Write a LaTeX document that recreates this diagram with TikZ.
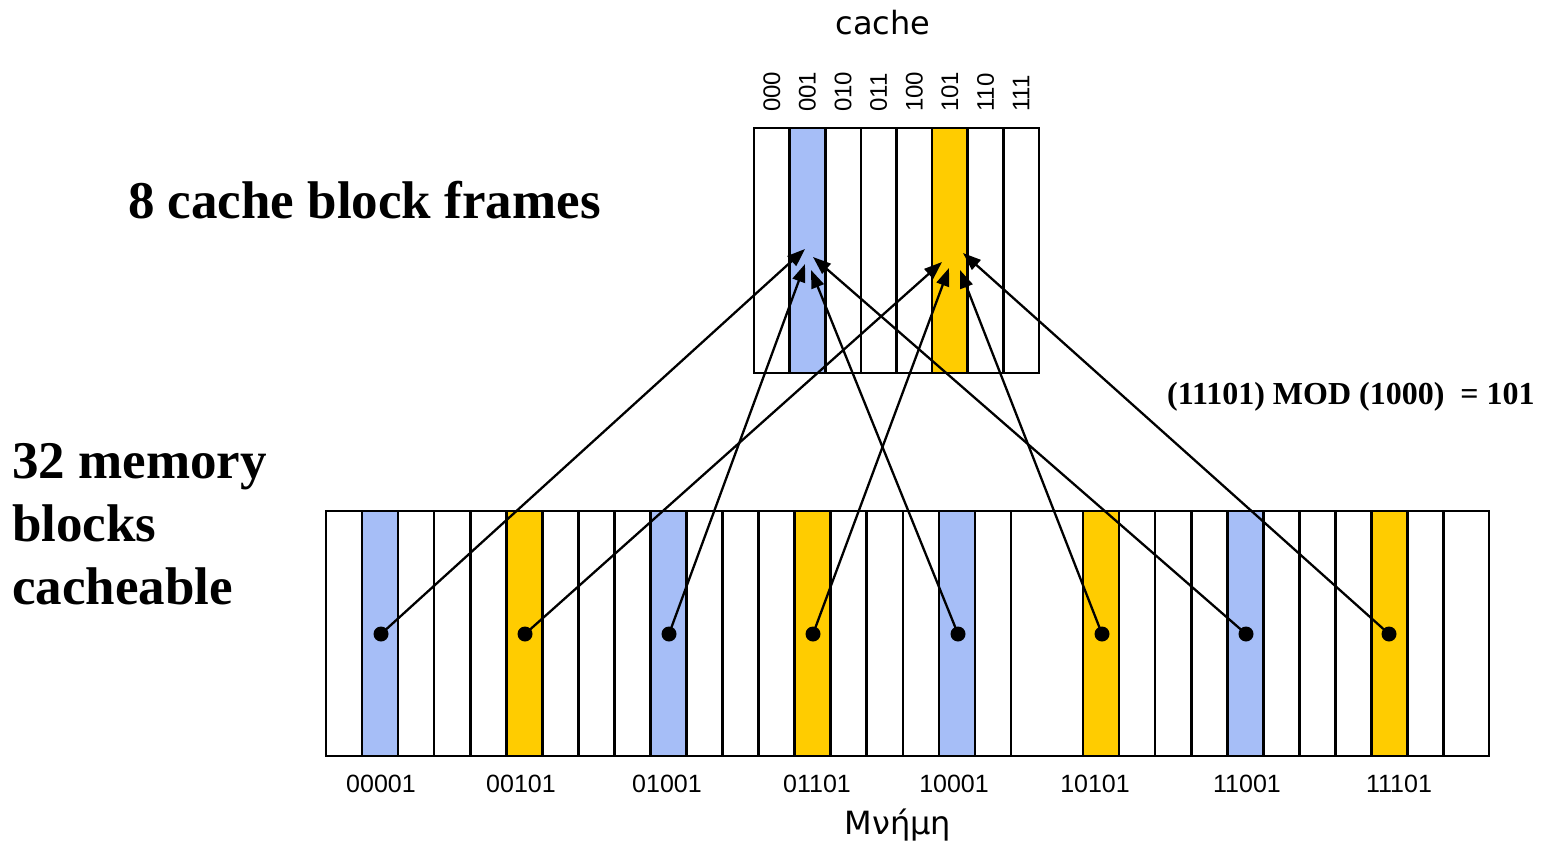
\documentclass[tikz,border=0pt]{standalone}
\usepackage{fontspec}
\setmainfont{Liberation Serif}
\newfontfamily\arialf{Liberation Sans}
\newfontfamily\comicf{DejaVu Sans}
\usetikzlibrary{arrows.meta}
\definecolor{cblue}{RGB}{166,190,247}
\definecolor{cyellow}{RGB}{255,204,0}
\tikzset{
  frame/.style={draw=black, line width=2.6pt, inner sep=0pt, outer sep=0pt, anchor=north west},
  gridline/.style={line width=2.6pt},
  conn/.style={line width=2.3pt, -{Triangle[length=18pt,width=13pt]}},
  dot/.style={circle, fill=black, inner sep=0pt, minimum size=15pt},
  bitlbl/.style={font=\arialf\fontsize{24}{24}\selectfont, rotate=90, anchor=west, inner sep=0pt},
  memlbl/.style={font=\arialf\fontsize{25}{25}\selectfont, anchor=base, inner sep=0pt},
  titlelbl/.style={font=\comicf\fontsize{32}{38}\selectfont, anchor=base, inner sep=0pt},
  bigbold/.style={font=\fontsize{53}{63}\selectfont\bfseries, inner sep=0pt, anchor=base west, align=left},
  modlbl/.style={font=\fontsize{32}{32}\selectfont\bfseries, inner sep=0pt, anchor=base west},
}
\begin{document}
\begin{tikzpicture}[x=1pt,y=-1pt]
\useasboundingbox (0,0) rectangle (1542,843);
% ---------- cache ----------
\fill[cblue] (789.6,128) rectangle (825.3,373);
\fill[cyellow] (932.1,128) rectangle (967.8,373);
\foreach \k in {1,...,7} {
  \draw[gridline] ({754+35.625*\k},128) -- ({754+35.625*\k},373);
}
\node[frame, minimum width=285pt, minimum height=245pt] (cache) at (754,128) {};
\node[titlelbl] (cachetitle) at (883,35) {cache};
\foreach \k/\b in {0/000,1/001,2/010,3/011,4/100,5/101,6/110,7/111} {
  \node[bitlbl] (bit\k) at ({754+35.625*\k+17.8},112) {\b};
}
% ---------- memory ----------
\foreach \k/\c in {1/cblue,5/cyellow,9/cblue,13/cyellow,17/cblue,21/cyellow,25/cblue,29/cyellow} {
  \fill[\c] ({326+36.05*\k},511) rectangle ({326+36.05*(\k+1)},756);
}
\foreach \k in {1,...,31} {
  \ifnum\k=20\else
    \draw[gridline] ({326+36.05*\k},511) -- ({326+36.05*\k},756);
  \fi
}
\node[frame, minimum width=1163pt, minimum height=245pt] (mem) at (326,511) {};
\node[memlbl] (l1) at (381,792) {00001};
\node[memlbl] (l2) at (521,792) {00101};
\node[memlbl] (l3) at (667,792) {01001};
\node[memlbl] (l4) at (817,792) {01101};
\node[memlbl] (l5) at (954,792) {10001};
\node[memlbl] (l6) at (1095,792) {10101};
\node[memlbl] (l7) at (1247,792) {11001};
\node[memlbl] (l8) at (1399,792) {11101};
\node[titlelbl] (memtitle) at (898,834) {Μνήμη};
% ---------- side texts ----------
\node[bigbold] (framestxt) at (128,218) {8 cache block frames};
\node[bigbold] (blockstxt) at (12,604) {32 memory\\blocks\\cacheable};
\node[modlbl] (modtxt) at (1167,404) {(11101) MOD (1000) \ = 101};
% ---------- connectors ----------
\coordinate (t1) at (805,249);
\coordinate (t2) at (942,262);
\coordinate (t3) at (805,264);
\coordinate (t4) at (949,268);
\coordinate (t5) at (811,270);
\coordinate (t6) at (960,270);
\coordinate (t7) at (813,257);
\coordinate (t8) at (963,253);
\node[dot] (m1) at (381,634) {};
\node[dot] (m2) at (525,634) {};
\node[dot] (m3) at (669,634) {};
\node[dot] (m4) at (813,634) {};
\node[dot] (m5) at (958,634) {};
\node[dot] (m6) at (1102,634) {};
\node[dot] (m7) at (1246,634) {};
\node[dot] (m8) at (1389,634) {};
\foreach \i in {1,...,8} {
  \draw[conn] (m\i.center) -- (t\i);
}
\end{tikzpicture}
\end{document}
